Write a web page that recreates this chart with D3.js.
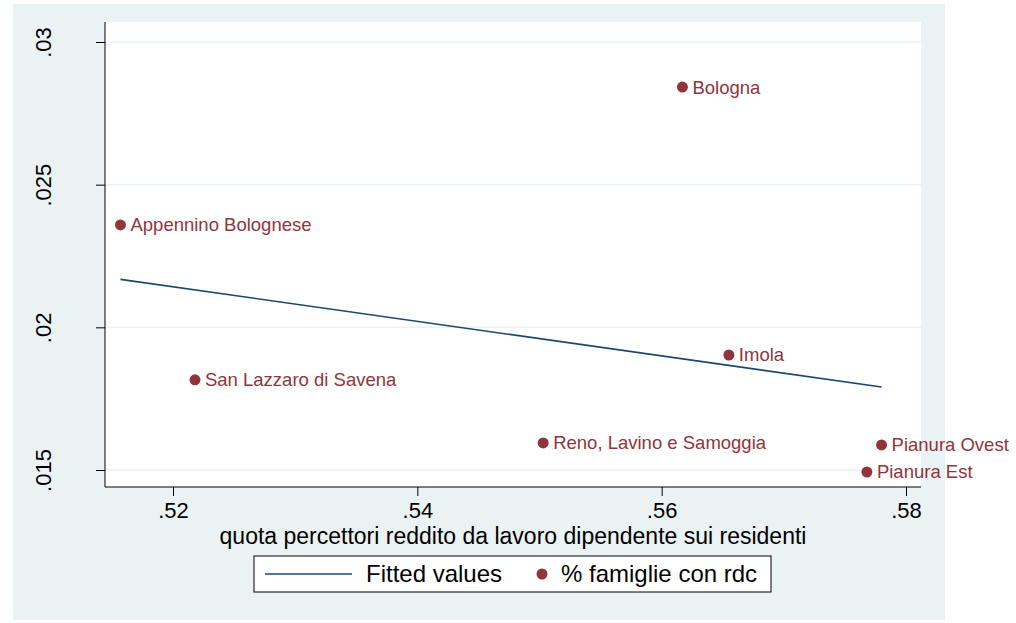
<!DOCTYPE html>
<html>
<head>
<meta charset="utf-8">
<script src="https://cdn.jsdelivr.net/npm/d3@7"></script>
<style>
  body { margin: 0; background: #fff; }
  text { font-family: "Liberation Sans", Arial, sans-serif; }
</style>
</head>
<body>
<svg id="chart" width="1016" height="623"></svg>
<script>
// values
var districts = ["Bologna", "Appennino Bolognese", "Imola", "San Lazzaro di Savena",
    "Reno, Lavino e Samoggia", "Pianura Ovest", "Pianura Est"];
var quotaLavoro = [0.5617, 0.5157, 0.5655, 0.5218, 0.5503, 0.5780, 0.5768];
var famiglieRdc = [0.02842, 0.02359, 0.01903, 0.01816, 0.01595, 0.01588, 0.01493];
var fittedX = [0.5157, 0.5780];
var fittedY = [0.02168, 0.01791];
var xTicks = [0.52, 0.54, 0.56, 0.58];
var yTicks = [0.015, 0.02, 0.025, 0.03];

var bg = "#eaf2f3", lineCol = "#1a476f", dotCol = "#90353b";

var svg = d3.select("#chart");

// outer graph region
svg.append("rect").attr("x", 13).attr("y", 4).attr("width", 932).attr("height", 616).attr("fill", bg);

var plot = { left: 105, right: 921, top: 22, bottom: 487 };
svg.append("rect").attr("x", plot.left).attr("y", plot.top)
    .attr("width", plot.right - plot.left).attr("height", plot.bottom - plot.top).attr("fill", "#fff");

var x = d3.scaleLinear().domain([0.52, 0.58]).range([173, 906]);
var y = d3.scaleLinear().domain([0.015, 0.03]).range([470, 42]);

// grid
svg.append("g").selectAll("line").data(yTicks).join("line")
    .attr("x1", plot.left).attr("x2", plot.right)
    .attr("y1", function (d) { return y(d); }).attr("y2", function (d) { return y(d); })
    .attr("stroke", bg).attr("stroke-width", 1.5);

// axes
var yAxis = svg.append("g").attr("transform", "translate(" + plot.left + ",0)")
    .call(d3.axisLeft(y).tickValues(yTicks).tickSize(9).tickPadding(0)
        .tickFormat(function (d) { return d3.format(".3~f")(d).replace(/^0/, ""); }));
yAxis.select(".domain").attr("d", "M0," + plot.top + "V" + plot.bottom).attr("stroke", "#000");
yAxis.selectAll(".tick line").attr("stroke", "#000");
yAxis.selectAll(".tick text")
    .attr("x", 0).attr("dy", null)
    .attr("transform", "translate(-62,0) rotate(-90)")
    .attr("text-anchor", "middle").attr("dominant-baseline", "central")
    .style("font-size", "22px").attr("fill", "#000");

var xAxis = svg.append("g").attr("transform", "translate(0," + plot.bottom + ")")
    .call(d3.axisBottom(x).tickValues(xTicks).tickSize(9).tickPadding(6)
        .tickFormat(function (d) { return d3.format(".2f")(d).replace(/^0/, ""); }));
xAxis.select(".domain").attr("d", "M" + plot.left + ",0H" + plot.right).attr("stroke", "#000");
xAxis.selectAll(".tick line").attr("stroke", "#000");
xAxis.selectAll(".tick text").style("font-size", "22px").attr("fill", "#000");

svg.append("text").attr("x", 513).attr("y", 544).attr("text-anchor", "middle")
    .style("font-size", "23px").text("quota percettori reddito da lavoro dipendente sui residenti");

// fitted line
svg.append("line")
    .attr("x1", x(fittedX[0])).attr("y1", y(fittedY[0]))
    .attr("x2", x(fittedX[1])).attr("y2", y(fittedY[1]))
    .attr("stroke", lineCol).attr("stroke-width", 1.6);

// points and labels
var pts = districts.map(function (d, i) { return { name: d, x: quotaLavoro[i], y: famiglieRdc[i] }; });
var pg = svg.append("g").selectAll("g").data(pts).join("g")
    .attr("transform", function (d) { return "translate(" + x(d.x) + "," + y(d.y) + ")"; });
pg.append("circle").attr("r", 5.5).attr("fill", dotCol);
pg.append("text").attr("x", 10).attr("dy", "0.35em")
    .style("font-size", "18.5px").attr("fill", dotCol)
    .text(function (d) { return d.name; });

// legend
var lg = svg.append("g");
lg.append("rect").attr("x", 254).attr("y", 556).attr("width", 517).attr("height", 36)
    .attr("fill", "#fff").attr("stroke", "#000").attr("stroke-width", 1);
lg.append("line").attr("x1", 265).attr("x2", 352).attr("y1", 574).attr("y2", 574)
    .attr("stroke", lineCol).attr("stroke-width", 1.6);
lg.append("text").attr("x", 366).attr("y", 574).attr("dy", "0.35em").style("font-size", "24px").text("Fitted values");
lg.append("circle").attr("cx", 542).attr("cy", 574).attr("r", 5.5).attr("fill", dotCol);
lg.append("text").attr("x", 561).attr("y", 574).attr("dy", "0.35em").style("font-size", "24px").text("% famiglie con rdc");
</script>
</body>
</html>
